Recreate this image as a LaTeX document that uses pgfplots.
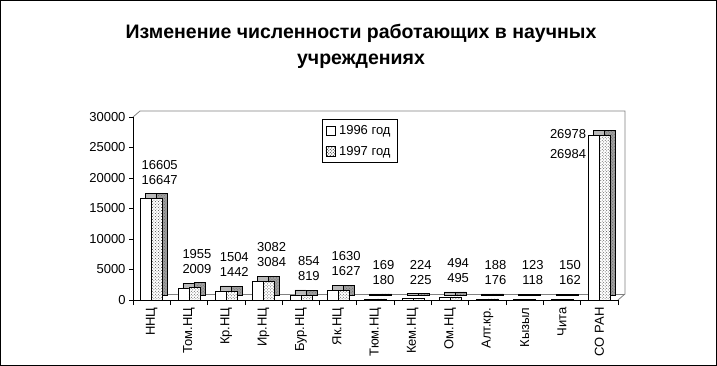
\documentclass[border=0pt]{standalone}
\usepackage{pgfplots}
\pgfplotsset{compat=1.18}
\usepackage{fontspec}
\setmainfont{Liberation Sans}
\usetikzlibrary{patterns}
\begin{document}
\begin{tikzpicture}[x=1bp,y=1bp]
\path[use as bounding box] (0bp,0bp) rectangle (717bp,366bp);
\draw[black, line width=1bp] (0.5bp,0.5bp) rectangle (716.5bp,365.5bp);
\node[font=\fontsize{19.5bp}{26bp}\selectfont\bfseries, align=center] at (361bp,320bp) {Изменение численности работающих в научных\\учреждениях};
% back wall of the 3D frame
\draw[gray, line width=0.8bp] (133bp,249bp) -- (140bp,255bp) -- (625bp,255bp) -- (625bp,72bp) -- (618bp,66bp);
\draw[gray, line width=0.8bp] (140bp,72bp) -- (625bp,72bp);
\begin{axis}[
  at={(133bp,66bp)}, anchor=south west,
  scale only axis, width=485bp, height=183bp,
  xmin=-0.5, xmax=12.5, ymin=0, ymax=30000,
  axis x line*=bottom, axis y line*=left,
  axis line style={black, line width=0.8bp},
  clip=false,
  tick align=outside,
  ytick={0,5000,...,30000},
  scaled y ticks=false,
  /pgf/number format/1000 sep={},
  /pgf/number format/assume math mode=true,
  major tick length=4bp,
  minor tick length=5bp,
  tick style={black, line width=0.8bp},
  xtick={0,...,12},
  major x tick style={draw=none},
  minor xtick={-0.5,0.5,...,12.5},
  xticklabels={ННЦ,Том.НЦ,Кр.НЦ,Ир.НЦ,Бур.НЦ,Як.НЦ,Тюм.НЦ,Кем.НЦ,Ом.НЦ,Алт.кр.,Кызыл,Чита,СО РАН},
  xticklabel style={rotate=90, anchor=east, font=\fontsize{13bp}{15bp}\selectfont},
  yticklabel style={font=\fontsize{13bp}{15bp}\selectfont},
  legend style={at={(0.39,0.989)}, anchor=north west, draw=black, line width=0.8bp,
    font=\fontsize{13bp}{15bp}\selectfont, row sep=6bp, inner xsep=3bp, inner ysep=4bp,
    cells={anchor=west}, nodes={inner xsep=4bp}},
]
% depth (shadow) bars
\addplot[ybar, forget plot, bar width=11bp, bar shift=-0.5bp, yshift=5bp, fill=gray!55, draw=black, line width=0.5bp]
 coordinates {(0,16605) (1,1955) (2,1504) (3,3082) (4,854) (5,1630) (6,169) (7,224) (8,494) (9,188) (10,123) (11,150) (12,26978)};
\addplot[ybar, forget plot, bar width=11bp, bar shift=10.5bp, yshift=5bp, fill=gray!75, draw=black, line width=0.5bp, postaction={pattern=crosshatch dots, pattern color=black!60}]
 coordinates {(0,16647) (1,2009) (2,1442) (3,3084) (4,819) (5,1627) (6,180) (7,225) (8,495) (9,176) (10,118) (11,162) (12,26984)};
% front bars
\addplot[ybar, bar width=11bp, bar shift=-5.5bp, fill=white, draw=black, line width=0.5bp,
  legend image code/.code={\draw[black, fill=white, line width=0.5bp] (0bp,-4.5bp) rectangle (9bp,4.5bp);}]
 coordinates {(0,16605) (1,1955) (2,1504) (3,3082) (4,854) (5,1630) (6,169) (7,224) (8,494) (9,188) (10,123) (11,150) (12,26978)};
\addlegendentry{1996 год}
\addplot[ybar, bar width=11bp, bar shift=5.5bp, fill=white, draw=black, line width=0.5bp, postaction={pattern=crosshatch dots, pattern color=black!70},
  legend image code/.code={\draw[black, fill=white, line width=0.5bp, postaction={pattern=crosshatch dots, pattern color=black!70}] (0bp,-4.5bp) rectangle (9bp,4.5bp);}]
 coordinates {(0,16647) (1,2009) (2,1442) (3,3084) (4,819) (5,1627) (6,180) (7,225) (8,495) (9,176) (10,118) (11,162) (12,26984)};
\addlegendentry{1997 год}
% data labels
\addplot[forget plot, draw=none, mark=none, nodes near coords, point meta=explicit symbolic,
  nodes near coords style={font=\fontsize{13bp}{15bp}\selectfont, align=center, anchor=south, xshift=8bp, yshift=14bp, inner sep=0pt}]
 coordinates {(0,16647)[{16605\\16647}] (1,2009)[{1955\\2009}] (2,1504)[{1504\\1442}] (3,3084)[{3082\\3084}] (4,854)[{854\\819}] (5,1630)[{1630\\1627}] (6,180)[{169\\180}] (7,225)[{224\\225}] (8,495)[{494\\495}] (9,188)[{188\\176}] (10,123)[{123\\118}] (11,162)[{150\\162}]};
\addplot[forget plot, draw=none, mark=none, nodes near coords, point meta=explicit symbolic,
  nodes near coords style={font=\fontsize{13bp}{20bp}\selectfont, align=right, anchor=north east, xshift=-13bp, yshift=6bp, inner sep=0pt}]
 coordinates {(12,26978)[{26978\\26984}]};
\end{axis}
\end{tikzpicture}
\end{document}
